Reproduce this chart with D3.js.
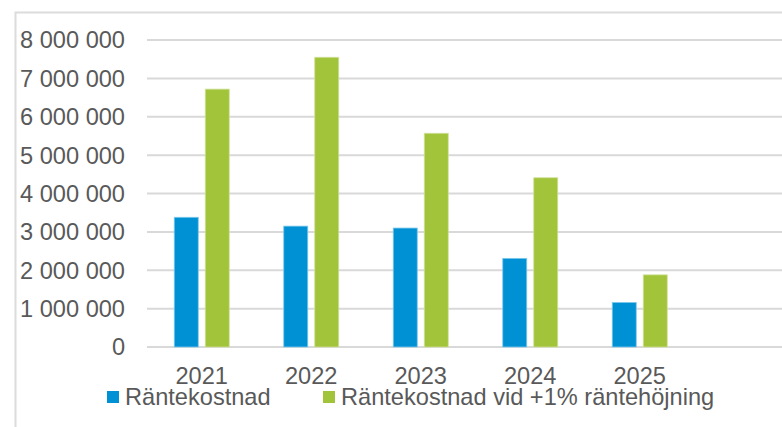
<!DOCTYPE html>
<html>
<head>
<meta charset="utf-8">
<script src="https://cdn.jsdelivr.net/npm/d3@7"></script>
<style>
  body { margin: 0; background: #fff; }
  svg { display: block; font-family: "Liberation Sans", Arial, sans-serif; }
</style>
</head>
<body>
<svg id="chart" width="782" height="427"></svg>
<script>
// chart data
const years = ['2021', '2022', '2023', '2024', '2025'];
const kostnad = [3380000, 3150000, 3100000, 2310000, 1160000];
const kostnadPlus1 = [6720000, 7550000, 5570000, 4410000, 1880000];
const yTicks = [0, 1000000, 2000000, 3000000, 4000000, 5000000, 6000000, 7000000, 8000000];
const seriesNames = ['Räntekostnad', 'Räntekostnad vid +1% räntehöjning'];
const colors = ['#0091D5', '#A2C43A'];

const svg = d3.select('#chart');
const textColor = '#595959';
const gridColor = '#D9D9D9';
const fontSize = 23.6;

// outer chart border (runs off the right and bottom edge)
svg.append('rect')
    .attr('x', 15.5).attr('y', 12.5)
    .attr('width', 800).attr('height', 500)
    .attr('fill', 'none')
    .attr('stroke', '#DCDCDC')
    .attr('stroke-width', 2);

const plotLeft = 147, plotBottom = 347, plotTop = 40;
const step = 109.5;

const y = d3.scaleLinear().domain([0, 8000000]).range([plotBottom, plotTop]);
const x = d3.scaleBand().domain(years).range([plotLeft, plotLeft + step * years.length]);
const fmt = v => d3.format(',')(v).replace(/,/g, ' ');

// gridlines
svg.append('g').selectAll('line')
    .data(yTicks)
    .join('line')
    .attr('x1', plotLeft).attr('x2', 782)
    .attr('y1', d => y(d)).attr('y2', d => y(d))
    .attr('stroke', gridColor)
    .attr('stroke-width', 2);

// y labels
svg.append('g').selectAll('text')
    .data(yTicks)
    .join('text')
    .attr('x', 125)
    .attr('y', d => y(d) + 8.4)
    .attr('text-anchor', 'end')
    .attr('font-size', fontSize)
    .attr('fill', textColor)
    .text(d => fmt(d));

// bars
const barW = 24, gap = 7;
const series = [kostnad, kostnadPlus1];
series.forEach((vals, si) => {
    svg.append('g').selectAll('rect')
        .data(vals)
        .join('rect')
        .attr('x', (d, i) => x(years[i]) + x.bandwidth() / 2 - barW - gap / 2 + si * (barW + gap))
        .attr('y', d => y(d))
        .attr('width', barW)
        .attr('height', d => plotBottom - y(d))
        .attr('fill', colors[si])
        .attr('stroke', si === 0 ? '#7FC8EC' : '#CFE29A')
        .attr('stroke-width', 0.8);
});

// x labels
svg.append('g').selectAll('text')
    .data(years)
    .join('text')
    .attr('x', d => x(d) + x.bandwidth() / 2)
    .attr('y', 384)
    .attr('text-anchor', 'middle')
    .attr('font-size', fontSize)
    .attr('fill', textColor)
    .text(d => d);

// legend
const legendX = [107, 323];
seriesNames.forEach((name, i) => {
    svg.append('rect')
        .attr('x', legendX[i]).attr('y', 391)
        .attr('width', 12).attr('height', 12)
        .attr('fill', colors[i]);
    svg.append('text')
        .attr('x', legendX[i] + 18)
        .attr('y', 405)
        .attr('font-size', fontSize)
        .attr('fill', textColor)
        .text(name);
});
</script>
</body>
</html>
